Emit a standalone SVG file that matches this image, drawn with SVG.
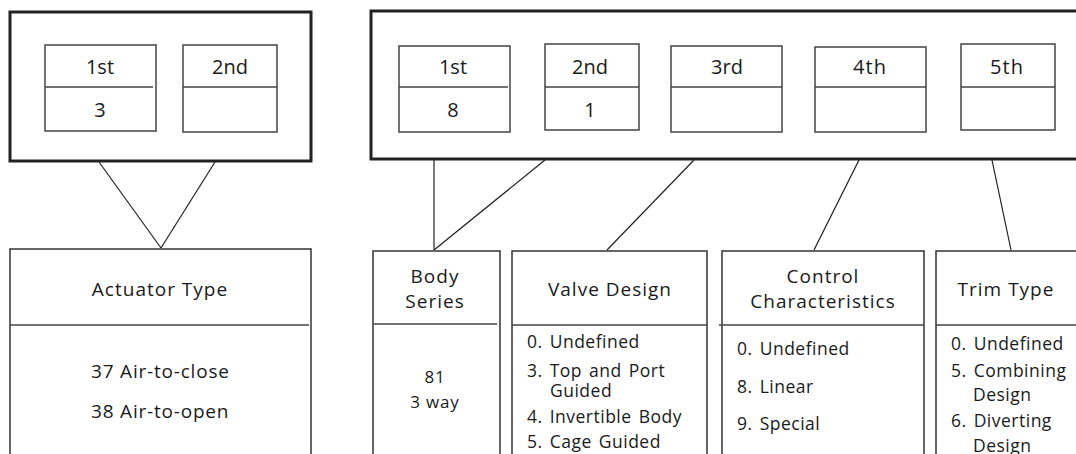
<svg xmlns="http://www.w3.org/2000/svg" width="1076" height="454" viewBox="0 0 1076 454">
<style>
.outer{fill:none;stroke:#222;stroke-width:3}
.cell{fill:none;stroke:#444;stroke-width:1.5}
.box{fill:none;stroke:#333;stroke-width:1.5}
.div{stroke:#444;stroke-width:1.5}
.conn line{stroke:#222;stroke-width:1.2}
text{font-family:"Open Sans","Liberation Sans",sans-serif;fill:#1a1a1a}
.c{text-anchor:middle}
.lab{font-size:20px}
.hd{font-size:19px;letter-spacing:1px}
.li{font-size:17.5px;letter-spacing:0.5px;word-spacing:2px}
.bs{font-size:17px;letter-spacing:0.8px}
</style>
<rect width="1076" height="454" fill="#fff"/>
<g id="left-code">
<rect class="outer" x="10" y="12" width="301" height="149"/>
</g>
<g id="left-1st">
<rect class="cell" x="45" y="45" width="111" height="86"/>
<line class="div" x1="45" y1="87" x2="153" y2="87"/>
<text class="c lab" x="100" y="74">1st</text>
<text class="c lab" x="100" y="117">3</text>
</g>
<g id="left-2nd">
<rect class="cell" x="183" y="45" width="94" height="87"/>
<line class="div" x1="183" y1="87" x2="277" y2="87"/>
<text class="c lab" x="230" y="74">2nd</text>
</g>
<g id="right-code">
<rect class="outer" x="371" y="11" width="720" height="148"/>
</g>
<g id="right-1st">
<rect class="cell" x="399" y="46" width="111" height="86"/>
<line class="div" x1="399" y1="87" x2="508" y2="87"/>
<text class="c lab" x="453" y="74">1st</text>
<text class="c lab" x="453" y="117">8</text>
</g>
<g id="right-2nd">
<rect class="cell" x="545" y="44" width="94" height="86"/>
<line class="div" x1="545" y1="87" x2="639" y2="87"/>
<text class="c lab" x="590" y="74">2nd</text>
<text class="c lab" x="590" y="117">1</text>
</g>
<g id="right-3rd">
<rect class="cell" x="671" y="46" width="111" height="86"/>
<line class="div" x1="671" y1="87" x2="782" y2="87"/>
<text class="c lab" x="727" y="74">3rd</text>
</g>
<g id="right-4th">
<rect class="cell" x="815" y="47" width="111" height="85"/>
<line class="div" x1="815" y1="87" x2="926" y2="87"/>
<text class="c lab" x="870" y="74" style="letter-spacing:1px">4th</text>
</g>
<g id="right-5th">
<rect class="cell" x="961" y="44" width="94" height="86"/>
<line class="div" x1="961" y1="87" x2="1055" y2="87"/>
<text class="c lab" x="1007" y="74" style="letter-spacing:1px">5th</text>
</g>
<g id="connectors" class="conn">
<line x1="99" y1="162" x2="161" y2="248"/>
<line x1="215" y1="162" x2="161" y2="248"/>
<line x1="434" y1="160" x2="434" y2="250"/>
<line x1="545" y1="160" x2="434" y2="250"/>
<line x1="694" y1="160" x2="607" y2="250"/>
<line x1="859" y1="160" x2="814" y2="250"/>
<line x1="992" y1="160" x2="1011" y2="250"/>
</g>
<g id="actuator-type">
<rect class="box" x="10" y="249" width="301" height="220"/>
<line class="div" x1="10" y1="325" x2="309" y2="325"/>
<text class="c hd" x="160" y="296">Actuator Type</text>
<text class="hd" x="91" y="378" style="letter-spacing:0.8px">37 Air-to-close</text>
<text class="hd" x="91" y="418" style="letter-spacing:0.8px">38 Air-to-open</text>
</g>
<g id="body-series">
<rect class="box" x="373" y="251" width="127" height="220"/>
<line class="div" x1="373" y1="324" x2="497" y2="324"/>
<text class="c hd" x="435" y="283">Body</text>
<text class="c hd" x="435" y="308">Series</text>
<text class="c bs" x="435" y="383">81</text>
<text class="c bs" x="435" y="408">3 way</text>
</g>
<g id="valve-design">
<rect class="box" x="512" y="251" width="195" height="220"/>
<line class="div" x1="512" y1="325" x2="707" y2="325"/>
<text class="c hd" x="610" y="296">Valve Design</text>
<text class="li" x="527" y="348">0. Undefined</text>
<text class="li" x="527" y="377">3. Top and Port</text>
<text class="li" x="550" y="397">Guided</text>
<text class="li" x="527" y="423">4. Invertible Body</text>
<text class="li" x="527" y="448">5. Cage Guided</text>
</g>
<g id="control-characteristics">
<rect class="box" x="722" y="251" width="202" height="220"/>
<line class="div" x1="719" y1="325" x2="924" y2="325"/>
<text class="c hd" x="823" y="283">Control</text>
<text class="c hd" x="823" y="308">Characteristics</text>
<text class="li" x="737" y="355">0. Undefined</text>
<text class="li" x="737" y="393">8. Linear</text>
<text class="li" x="737" y="430">9. Special</text>
</g>
<g id="trim-type">
<rect class="box" x="936" y="251" width="160" height="220"/>
<line class="div" x1="936" y1="325" x2="1076" y2="325"/>
<text class="c hd" x="1006" y="296">Trim Type</text>
<text class="li" x="951" y="350">0. Undefined</text>
<text class="li" x="951" y="377">5. Combining</text>
<text class="li" x="973" y="401">Design</text>
<text class="li" x="951" y="427">6. Diverting</text>
<text class="li" x="973" y="452">Design</text>
</g>
</svg>
